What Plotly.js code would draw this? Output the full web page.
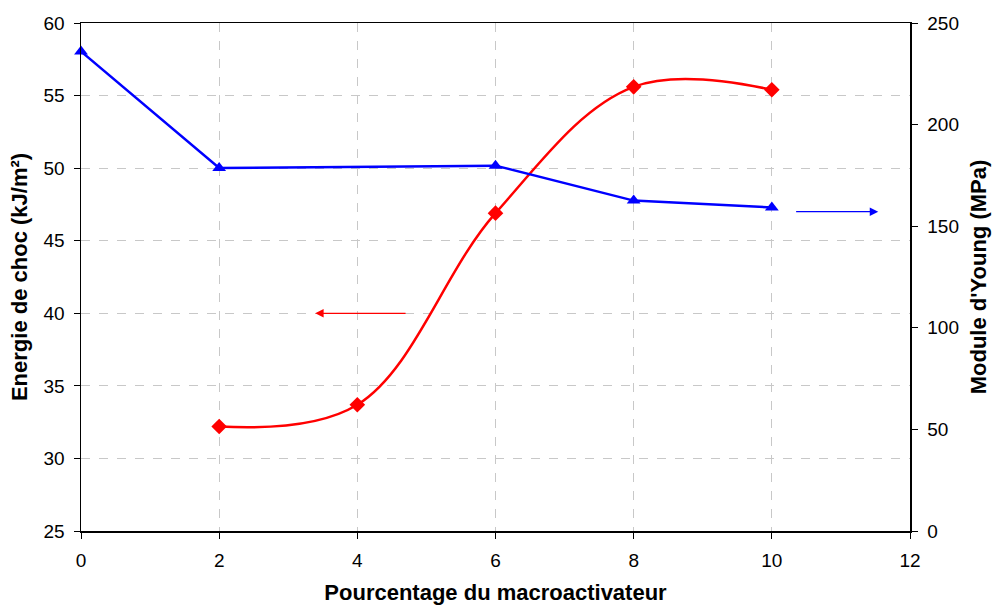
<!DOCTYPE html>
<html><head><meta charset="utf-8">
<script src="https://cdn.plot.ly/plotly-3.0.1.min.js"></script>
<style>html,body{margin:0;padding:0;background:#fff;}#chart{width:994px;height:608px;}</style>
</head><body><div id="chart"></div>
<script>
const xEnergie = [2, 4, 6, 8, 10];
const energie = [32.2, 33.7, 46.9, 55.6, 55.4];
const xModule = [0, 2, 6, 8, 10];
const module = [236, 178.6, 179.8, 162.6, 159.2];
const xTicks = [0, 2, 4, 6, 8, 10, 12];
const yLeftTicks = [25, 30, 35, 40, 45, 50, 55, 60];
const yRightTicks = [0, 50, 100, 150, 200, 250];

const fam = 'Liberation Sans, Arial, sans-serif';
const fnt = {family: fam, size: 19, color: '#000'};
const tfnt = {family: fam, size: 22, color: '#000'};
const data = [
  {x: xEnergie, y: energie, type: 'scatter', mode: 'lines+markers', name: 'Energie de choc', cliponaxis: false,
   line: {color: '#ff0000', width: 2.5, shape: 'spline', smoothing: 1.05}, marker: {symbol: 'diamond', size: 12, color: '#ff0000'}},
  {x: xModule, y: module, type: 'scatter', mode: 'lines+markers', name: "Module d'Young", yaxis: 'y2', cliponaxis: false,
   line: {color: '#0000ff', width: 2.5}, marker: {symbol: 'triangle-up', size: 12, color: '#0000ff'}}
];
const layout = {
  width: 994, height: 608, showlegend: false,
  paper_bgcolor: '#fff', plot_bgcolor: '#fff',
  margin: {l: 81, r: 84, t: 23, b: 77},
  font: fnt,
  xaxis: {range: [0, 12], tickvals: xTicks, ticks: 'outside', ticklen: 6, tickcolor: '#000', tickfont: fnt, ticklabelstandoff: 6,
    showline: true, linecolor: '#000', linewidth: 1.5, mirror: true, zeroline: false,
    showgrid: true, gridcolor: '#c8c8c8', griddash: 'dash', gridwidth: 1,
    title: {text: '<b>Pourcentage du macroactivateur</b>', font: tfnt, standoff: 14}},
  yaxis: {range: [25, 60], tickvals: yLeftTicks, ticks: 'outside', ticklen: 6, tickcolor: '#000', tickfont: fnt, ticklabelstandoff: 5,
    showline: true, linecolor: '#000', linewidth: 1.5, zeroline: false,
    showgrid: true, gridcolor: '#c8c8c8', griddash: 'dash', gridwidth: 1,
    title: {text: '<b>Energie de choc (kJ/m²)</b>', font: tfnt, standoff: 10}},
  yaxis2: {range: [0, 250], tickvals: yRightTicks, overlaying: 'y', side: 'right', ticks: 'outside', ticklen: 6, tickcolor: '#000', tickfont: fnt, ticklabelstandoff: 6,
    showline: true, linecolor: '#000', linewidth: 1.5, zeroline: false, showgrid: false,
    title: {text: "<b>Module d'Young (MPa)</b>", font: tfnt, standoff: 12}},
  annotations: [
    {x: 3.39, y: 40, ax: 4.72, ay: 40, xref: 'x', yref: 'y', axref: 'x', ayref: 'y', text: '', showarrow: true,
     arrowhead: 2, arrowsize: 1.3, arrowwidth: 1.3, arrowcolor: '#ff0000'},
    {x: 11.54, y: 47.0, ax: 10.33, ay: 47.0, xref: 'x', yref: 'y', axref: 'x', ayref: 'y', text: '', showarrow: true,
     arrowhead: 2, arrowsize: 1.3, arrowwidth: 1.3, arrowcolor: '#0000ff'}
  ]
};
Plotly.newPlot('chart', data, layout, {displayModeBar: false, staticPlot: true});
</script></body></html>
